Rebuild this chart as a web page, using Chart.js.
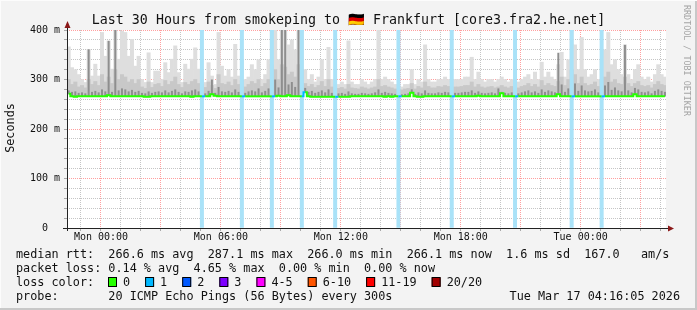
<!DOCTYPE html>
<html>
<head>
<meta charset="utf-8">
<script src="https://cdn.jsdelivr.net/npm/chart.js@4.4.1/dist/chart.umd.min.js"></script>
<style>
html, body { margin: 0; padding: 0; background: #f3f3f3; }
canvas { display: block; }
</style>
</head>
<body>
<canvas id="myChart" width="697" height="310"></canvas>
<script>
'use strict';

// x axis is in hours counted from Mon 00:00, one smoke slot = 10 minutes
const startHour = -1.7;
const endHour = 28.27;
const slotHours = 1 / 6;

const xTickHours = [0, 6, 12, 18, 24];
const xTickLabels = ['Mon 00:00', 'Mon 06:00', 'Mon 12:00', 'Mon 18:00', 'Tue 00:00'];

// rtt in ms, one value per slot
const maxRtt = [
    366, 324, 320, 310, 300, 294, 361, 307, 331, 307,
    395, 347, 378, 321, 400, 341, 398, 395, 347, 381,
    327, 347, 300, 294, 354, 294, 317, 317, 300, 334,
    314, 341, 368, 314, 294, 331, 321, 341, 364, 321,
    314, 294, 334, 307, 290, 395, 327, 307, 320, 305,
    371, 307, 340, 300, 305, 330, 320, 340, 300, 310,
    340, 400, 400, 340, 400, 400, 370, 380, 360, 400,
    400, 320, 300, 310, 295, 305, 340, 300, 365, 300,
    290, 290, 295, 290, 378, 295, 290, 290, 300, 295,
    290, 295, 300, 400, 300, 305, 300, 295, 290, 290,
    285, 290, 290, 320, 290, 300, 295, 370, 300, 295,
    295, 300, 300, 305, 300, 295, 300, 300, 300, 305,
    305, 345, 300, 315, 300, 295, 300, 300, 295, 300,
    305, 300, 295, 300, 300, 295, 300, 305, 310, 300,
    315, 300, 335, 305, 315, 305, 300, 330, 355, 305,
    340, 400, 370, 320, 385, 320, 305, 310, 320, 300,
    340, 360, 395, 330, 340, 320, 310, 370, 310, 300,
    320, 330, 305, 300, 305, 295, 310, 330, 310, 305
];

const midRtt = [
    300, 290, 295, 285, 288, 283, 300, 290, 296, 288,
    310, 295, 305, 292, 320, 300, 310, 305, 295, 300,
    292, 300, 285, 282, 295, 284, 290, 292, 286, 298,
    290, 296, 305, 290, 284, 294, 290, 296, 300, 292,
    290, 284, 295, 288, 282, 310, 292, 290, 295, 288,
    300, 290, 298, 285, 290, 296, 292, 300, 286, 292,
    300, 330, 320, 300, 330, 325, 310, 315, 305, 330,
    320, 292, 286, 290, 284, 288, 296, 286, 300, 285,
    282, 282, 284, 281, 290, 283, 282, 281, 285, 283,
    281, 283, 285, 300, 286, 288, 285, 283, 281, 280,
    279, 281, 282, 292, 281, 286, 283, 295, 286, 283,
    283, 286, 285, 288, 286, 283, 285, 285, 286, 288,
    288, 295, 285, 290, 285, 283, 285, 286, 283, 285,
    288, 285, 283, 286, 285, 283, 286, 288, 292, 286,
    290, 285, 298, 288, 292, 288, 286, 296, 305, 288,
    300, 320, 310, 292, 305, 292, 288, 290, 295, 286,
    300, 305, 315, 295, 300, 292, 290, 305, 292, 286,
    292, 296, 288, 286, 288, 283, 290, 296, 290, 288
];

const coreRtt = [
    278, 275, 276, 273, 274, 272, 361, 275, 277, 274,
    280, 276, 378, 275, 400, 278, 282, 280, 276, 279,
    275, 277, 273, 272, 276, 273, 275, 276, 274, 278,
    274, 277, 280, 275, 272, 276, 275, 278, 280, 276,
    275, 272, 277, 300, 273, 285, 276, 275, 277, 274,
    280, 275, 285, 273, 276, 278, 276, 282, 274, 277,
    282, 400, 300, 284, 400, 400, 290, 295, 285, 400,
    295, 283, 275, 277, 273, 275, 278, 274, 280, 273,
    272, 272, 273, 271, 276, 272, 271, 271, 273, 272,
    271, 272, 274, 280, 273, 275, 273, 272, 271, 270,
    270, 271, 272, 280, 271, 274, 272, 278, 273, 272,
    272, 274, 273, 275, 274, 272, 273, 273, 274, 275,
    275, 278, 273, 276, 273, 272, 273, 274, 272, 282,
    275, 273, 272, 274, 273, 272, 274, 276, 278, 274,
    276, 273, 280, 275, 278, 276, 274, 354, 290, 275,
    282, 300, 292, 277, 288, 278, 276, 277, 280, 274,
    284, 288, 295, 279, 284, 278, 276, 370, 278, 274,
    283, 280, 275, 274, 276, 272, 277, 280, 277, 275
];

const medianRtt = [
    271, 266, 265, 266, 266, 266, 266, 266, 266, 266,
    266, 266, 268, 266, 266, 266, 266, 266, 266, 266,
    266, 266, 266, 265, 265, 266, 266, 266, 266, 266,
    266, 266, 266, 266, 266, 266, 266, 265, 266, 266,
    266, 266, 266, 270, 267, 266, 266, 266, 266, 266,
    266, 266, 266, 266, 266, 266, 266, 266, 266, 266,
    266, 266, 266, 267, 266, 266, 268, 266, 266, 266,
    266, 274, 266, 265, 265, 265, 265, 265, 265, 265,
    265, 265, 265, 265, 265, 266, 266, 266, 266, 266,
    266, 266, 266, 266, 266, 265, 266, 265, 266, 266,
    266, 266, 266, 273, 266, 265, 265, 266, 266, 266,
    266, 266, 266, 266, 266, 266, 266, 266, 266, 266,
    266, 266, 266, 267, 266, 266, 266, 266, 266, 266,
    272, 266, 266, 266, 266, 266, 266, 266, 266, 266,
    266, 266, 266, 266, 266, 266, 266, 270, 266, 266,
    266, 266, 266, 266, 266, 266, 266, 266, 266, 266,
    266, 266, 266, 266, 266, 266, 266, 266, 266, 266,
    270, 266, 266, 266, 266, 266, 266, 266, 266, 266
];

// slots where 1 of 20 pings was lost
const lossSlots = [40, 52, 61, 70, 80, 99, 115, 134, 151, 160];

const lossLabels = ['0', '1', '2', '3', '4-5', '6-10', '11-19', '20/20'];
const lossColors = ['#26ff00', '#00b8ff', '#0059ff', '#7e00ff', '#ff00ff', '#ff5500', '#ff0000', '#a10000'];

const rttStats = ['266.6 ms avg', '287.1 ms max', '266.0 ms min', '266.1 ms now', '1.6 ms sd', '167.0   am/s'];
const lossStats = ['0.14 % avg', '4.65 % max', '0.00 % min', '0.00 % now'];

const titleText = 'Last 30 Hours from smokeping to \u{1F1E9}\u{1F1EA} Frankfurt [core3.fra2.he.net]';
const probeText = '20 ICMP Echo Pings (56 Bytes) every 300s';
const stampText = 'Tue Mar 17 04:16:05 2026';

const MONO = '"DejaVu Sans Mono", monospace';
const slotX = i => startHour + (i + 0.5) * slotHours;
const sec = ms => ms / 1000;

function smokeSet(values, color, width) {
    return {
        type: 'bar',
        data: values.map((v, i) => ({ x: slotX(i), y: [sec(medianRtt[i]), sec(v)] })),
        backgroundColor: color,
        borderWidth: 0,
        grouped: false,
        barPercentage: width,
        categoryPercentage: 1
    };
}

const decor = {
    id: 'decor',
    beforeDraw(chart) {
        const { ctx, chartArea: a } = chart;
        ctx.save();
        ctx.fillStyle = '#ffffff';
        ctx.fillRect(a.left, a.top, a.right - a.left, a.bottom - a.top);
        ctx.restore();
    },
    afterDraw(chart) {
        const { ctx, chartArea: a } = chart;
        ctx.save();

        // axes + arrows
        ctx.strokeStyle = '#222';
        ctx.lineWidth = 1;
        ctx.beginPath();
        ctx.moveTo(a.left - 4, a.bottom + 0.5);
        ctx.lineTo(a.right + 3, a.bottom + 0.5);
        ctx.moveTo(a.left + 0.5, a.bottom + 3);
        ctx.lineTo(a.left + 0.5, a.top - 3);
        ctx.stroke();
        ctx.fillStyle = '#8b1a1a';
        ctx.beginPath();
        ctx.moveTo(a.left - 2.5, a.top - 2);
        ctx.lineTo(a.left + 3.5, a.top - 2);
        ctx.lineTo(a.left + 0.5, a.top - 9);
        ctx.closePath();
        ctx.fill();
        ctx.beginPath();
        ctx.moveTo(a.right + 2, a.bottom - 2.5);
        ctx.lineTo(a.right + 2, a.bottom + 3.5);
        ctx.lineTo(a.right + 8, a.bottom + 0.5);
        ctx.closePath();
        ctx.fill();

        ctx.fillStyle = '#111';
        ctx.textBaseline = 'alphabetic';

        // title
        ctx.font = '13.3px ' + MONO;
        ctx.textAlign = 'center';
        ctx.fillText(titleText, 348.5, 24);

        // legend block
        ctx.font = '11.8px ' + MONO;
        ctx.textAlign = 'left';
        ctx.fillText('median rtt:  ' + rttStats.join('  '), 16, 258);
        ctx.fillText('packet loss: ' + lossStats.join('  '), 16, 272);
        ctx.fillText('loss color:', 16, 286);
        ctx.fillText('probe:       ' + probeText, 16, 300);
        ctx.textAlign = 'right';
        ctx.fillText(stampText, 680, 300);

        ctx.textAlign = 'left';
        let x = 108;
        lossLabels.forEach((lab, i) => {
            ctx.fillStyle = lossColors[i];
            ctx.fillRect(x, 277.5, 9, 9);
            ctx.strokeStyle = '#000';
            ctx.strokeRect(x + 0.5, 277.5, 8, 9);
            ctx.fillStyle = '#111';
            ctx.fillText(lab, x + 15, 286);
            x += 15 + ctx.measureText(lab).width + 15;
        });

        // y title
        ctx.translate(10.5, 128);
        ctx.rotate(-Math.PI / 2);
        ctx.textAlign = 'center';
        ctx.textBaseline = 'middle';
        ctx.fillText('Seconds', 0, 0);
        ctx.restore();

        // watermark
        ctx.save();
        ctx.translate(686, 5);
        ctx.rotate(Math.PI / 2);
        ctx.font = '8.4px ' + MONO;
        ctx.fillStyle = '#a4a4a4';
        ctx.textAlign = 'left';
        ctx.textBaseline = 'middle';
        ctx.fillText('RRDTOOL / TOBI OETIKER', 0, 0);
        ctx.restore();

        // frame shading
        ctx.save();
        ctx.fillStyle = '#c8c8c8';
        ctx.fillRect(695, 0, 2, 310);
        ctx.fillRect(0, 308, 697, 2);
        ctx.fillStyle = '#fcfcfc';
        ctx.fillRect(0, 0, 697, 1);
        ctx.fillRect(0, 0, 1, 308);
        ctx.restore();
    }
};

const ctx = document.getElementById('myChart');

const myChart = new Chart(ctx, {
    type: 'bar',
    data: {
        datasets: [
            {
                type: 'line',
                data: medianRtt.map((v, i) => ({ x: slotX(i), y: sec(v) })),
                borderColor: lossColors[0],
                borderWidth: 2,
                pointRadius: 0,
                stepped: 'middle',
                segment: {
                    borderColor: c => lossSlots.includes(c.p0DataIndex) ? lossColors[1] : lossColors[0]
                }
            },
            {
                type: 'bar',
                data: lossSlots.map(i => ({ x: slotX(i), y: [0, 0.4] })),
                backgroundColor: '#a9e2f8',
                borderWidth: 0,
                grouped: false,
                barPercentage: 1,
                categoryPercentage: 1
            },
            smokeSet(coreRtt, '#8e8e8e', 0.6),
            smokeSet(midRtt, '#c8c8c8', 1),
            smokeSet(maxRtt, '#dedede', 1)
        ]
    },
    options: {
        responsive: false,
        animation: false,
        devicePixelRatio: 1,
        layout: { padding: { top: 30, right: 31, bottom: 62, left: 0 } },
        plugins: { legend: { display: false }, tooltip: { enabled: false } },
        scales: {
            x: {
                type: 'linear',
                min: startHour,
                max: endHour,
                offset: false,
                afterBuildTicks: s => {
                    const t = [];
                    for (let h = -1; h <= 28; h++) t.push({ value: h });
                    s.ticks = t;
                },
                afterFit: s => { s.height = 20; },
                grid: {
                    offset: false,
                    color: c => (c.tick && c.tick.value % 3 === 0) ? 'rgba(255,80,80,0.55)' : 'rgba(150,150,150,0.55)',
                    tickLength: 3,
                    tickColor: 'rgba(120,120,120,0.6)'
                },
                border: { display: false, dash: [1, 1] },
                ticks: {
                    autoSkip: false,
                    maxRotation: 0,
                    minRotation: 0,
                    padding: 0,
                    color: '#111',
                    font: { family: 'DejaVu Sans Mono', size: 10 },
                    callback: v => {
                        const k = xTickHours.indexOf(v);
                        return k >= 0 ? xTickLabels[k] : '';
                    }
                }
            },
            y: {
                min: 0,
                max: 0.4,
                afterBuildTicks: s => {
                    const t = [];
                    for (let m = 0; m <= 400; m += 20) t.push({ value: m / 1000 });
                    s.ticks = t;
                },
                afterFit: s => { s.width = 67; },
                grid: {
                    color: c => (c.tick && Math.round(c.tick.value * 1000) % 100 === 0) ? 'rgba(255,80,80,0.55)' : 'rgba(150,150,150,0.55)',
                    tickLength: 3,
                    tickColor: 'rgba(120,120,120,0.6)'
                },
                border: { display: false, dash: [1, 1] },
                ticks: {
                    autoSkip: false,
                    padding: 4,
                    color: '#111',
                    font: { family: 'DejaVu Sans Mono', size: 10 },
                    callback: v => {
                        const m = Math.round(v * 1000);
                        if (m % 100 !== 0) return '';
                        return m === 0 ? '0  ' : m + ' m';
                    }
                }
            }
        }
    },
    plugins: [decor]
});
</script>
</body>
</html>
